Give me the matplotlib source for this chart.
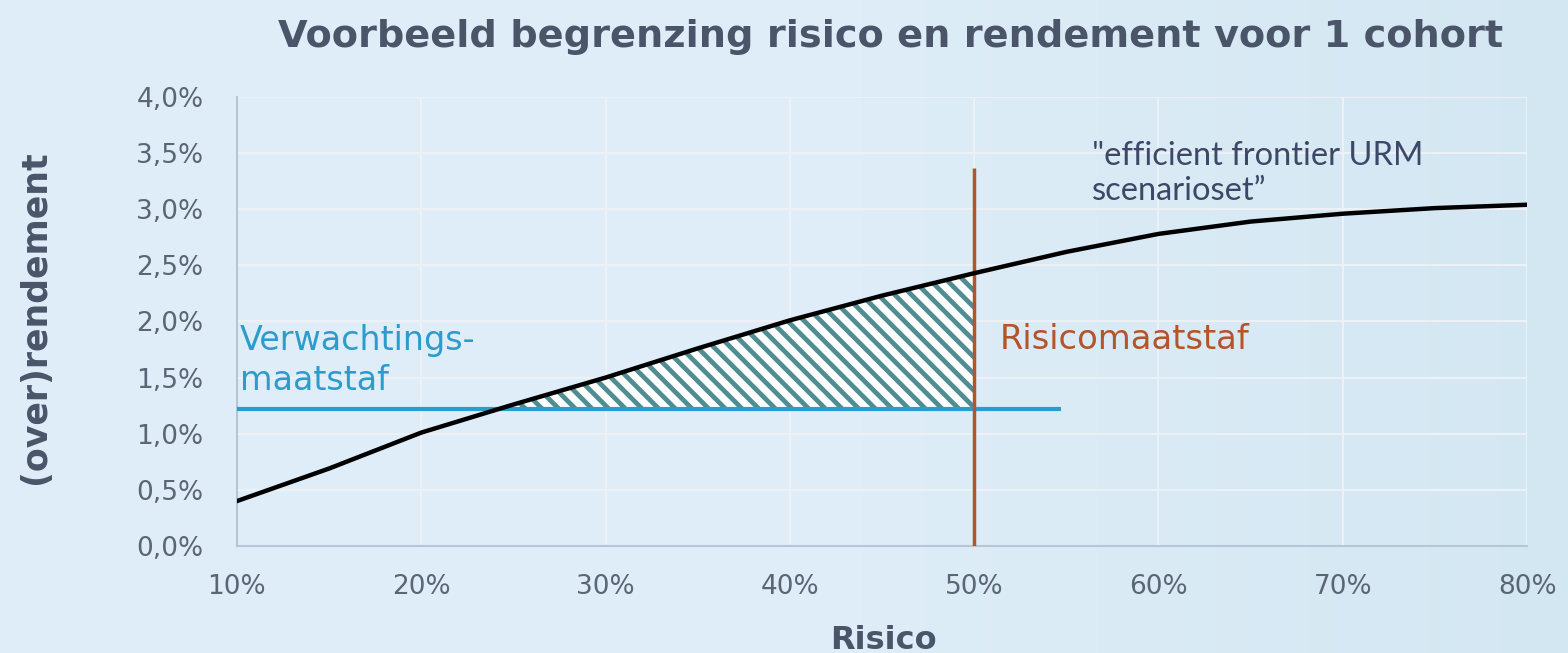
import numpy as np
import matplotlib
matplotlib.use('Agg')
import matplotlib.pyplot as plt

# efficient frontier (risk in %, return in %)
risk = [10, 15, 20, 25, 30, 35, 40, 45, 50, 55, 60, 65, 70, 75, 80]
rendement = [0.40, 0.69, 1.01, 1.26, 1.50, 1.76, 2.01, 2.23, 2.43, 2.62, 2.78, 2.89, 2.96, 3.01, 3.04]

verwachting = 1.22        # expected-return floor
verwachting_end = 54.7    # where the blue line stops
risico_grens = 50         # risk limit
risico_top = 3.37

yticks = [0, 0.5, 1.0, 1.5, 2.0, 2.5, 3.0, 3.5, 4.0]
xticks = [10, 20, 30, 40, 50, 60, 70, 80]

plt.rcParams['hatch.linewidth'] = 3.4
plt.rcParams['font.family'] = ['DejaVu Sans']

fig = plt.figure(figsize=(15.68, 6.53), dpi=100)
fig.patch.set_facecolor('#deedf7')

# soft background, a bit paler towards the right
bg = fig.add_axes([0, 0, 1, 1], zorder=-10)
grad = np.clip((np.linspace(0, 1, 400) - 0.55) / 0.45, 0, 1)
img = np.zeros((10, 400, 3))
c0 = np.array([0xde, 0xed, 0xf7]) / 255
c1 = np.array([0xd3, 0xe7, 0xf2]) / 255
for i in range(3):
    img[:, :, i] = c0[i] + (c1[i] - c0[i]) * grad
bg.imshow(img, aspect='auto', extent=[0, 1, 0, 1])
bg.axis('off')

ax = fig.add_axes([0.1511, 0.1639, 0.8228, 0.6876])
ax.set_facecolor('none')

ax.set_xlim(10, 80)
ax.set_ylim(0, 4)
ax.set_xticks(xticks)
ax.set_yticks(yticks)
ax.set_xticklabels([f'{t}%' for t in xticks])
ax.set_yticklabels([f'{t:.1f}%'.replace('.', ',') for t in yticks])
ax.tick_params(length=0, labelsize=19, colors='#5b6575')
ax.tick_params(axis='y', pad=24)
ax.tick_params(axis='x', pad=20)
ax.grid(True, color='#edf0f4', linewidth=1.5)
ax.set_axisbelow(True)
for s in ['top', 'right']:
    ax.spines[s].set_visible(False)
for s in ['left', 'bottom']:
    ax.spines[s].set_color('#b7c6d6')
    ax.spines[s].set_linewidth(1.5)

r = np.array(risk, dtype=float)
y = np.array(rendement)
mask = r <= risico_grens
ax.fill_between(r[mask], verwachting, y[mask], where=y[mask] >= verwachting,
                interpolate=True, facecolor='white', edgecolor='#4f8d93',
                hatch='\\\\', linewidth=0, zorder=2)

ax.plot(r, y, color='black', linewidth=3.2, zorder=4)
ax.plot([10, verwachting_end], [verwachting, verwachting], color='#2b9ccb',
        linewidth=3, zorder=3, solid_capstyle='butt')
ax.plot([risico_grens, risico_grens], [0, risico_top], color='#b5532a',
        linewidth=2.5, zorder=3, solid_capstyle='butt')

ax.text(10.15, 1.98, 'Verwachtings-\nmaatstaf', color='#2b9ccb', fontsize=24,
        va='top', ha='left', linespacing=1.28)
ax.text(51.4, 1.84, 'Risicomaatstaf', color='#b5532a', fontsize=24.3,
        va='center', ha='left')
ax.text(56.4, 3.61, '"efficient frontier URM\nscenarioset\u201d', color='#3c4868',
        fontsize=23.5, va='top', ha='left', family='Lato', linespacing=1.2)

fig.text(0.568, 0.944, 'Voorbeeld begrenzing risico en rendement voor 1 cohort',
         ha='center', va='center', fontsize=27.5, fontweight='bold', color='#4a5569')
ax.set_xlabel('Risico', fontsize=23, fontweight='bold', color='#4a5569')
ax.xaxis.set_label_coords(0.501, -0.175)
ax.set_ylabel('(over)rendement', fontsize=25, fontweight='bold', color='#4a5569')
ax.yaxis.set_label_coords(-0.143, 0.51)

fig.savefig('out.png', dpi=100, facecolor=fig.get_facecolor())
